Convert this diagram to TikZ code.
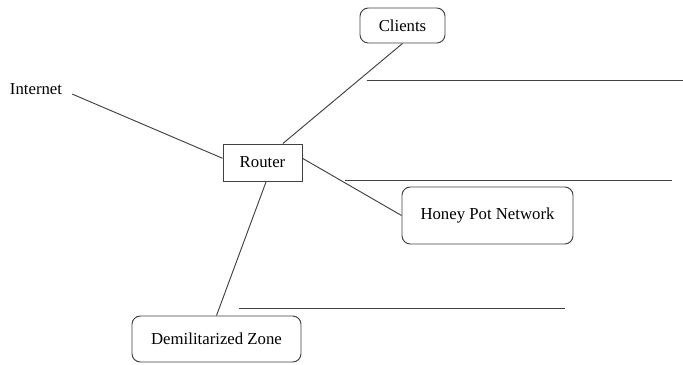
\documentclass[tikz,border=0pt]{standalone}
\usepackage{fontspec}
\setmainfont{Liberation Serif}
\usetikzlibrary{positioning}
\tikzset{
x=0.03cm, y=-0.03cm, % one unit is one pixel of the sketch, y runs down
every node/.style={font=\fontsize{14.3}{17}\selectfont}, % same text size everywhere
wire/.style={line width=0.8pt, draw=black!75}, % thin grey-black strokes
plain/.style={wire, rectangle, inner sep=0pt}, % the router box
soft/.style={wire, rectangle, rounded corners=0.25cm, inner sep=0pt}, % the other boxes
}
\begin{document}
\begin{tikzpicture}
\useasboundingbox (0,0) rectangle (683,364);

\node[inner sep=0.3cm] (net) at (36,89) {Internet};
\node[plain, minimum width=2.37cm, minimum height=1.11cm] (rt) at (262.5,162.5) {Router};
\node[soft, minimum width=2.55cm, minimum height=1.05cm] (cl) at (402.5,25.5) {Clients};
\node[soft, minimum width=5.13cm, minimum height=1.71cm] (hp) at (487.5,215.5) {Honey Pot Network};
\node[soft, minimum width=5.07cm, minimum height=1.38cm] (dmz) at (216.5,339) {Demilitarized Zone};


\draw[wire]

(net.-8) edge (rt.174)
(rt.43) edge (cl.south)
(rt.6) edge (hp.west)
(rt.-79) edge (dmz.north);

% the three loose rules
\draw[wire] (367,80) -- (683,80);
\draw[wire] (345,180) -- (672,180);
\draw[wire] (239,308) -- (565,308);


\end{tikzpicture}
\end{document}
